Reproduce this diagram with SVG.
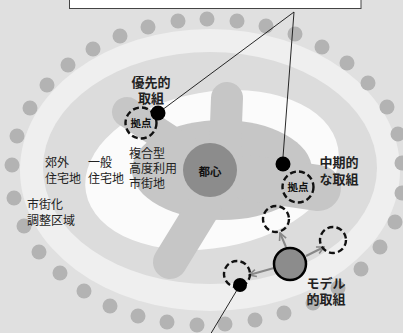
<svg xmlns="http://www.w3.org/2000/svg" width="403" height="333" viewBox="0 0 403 333">
<style>
.lbl{font-family:"Liberation Sans","Noto Sans CJK JP",sans-serif;font-size:12px;fill:#222}
.blbl{font-family:"Liberation Sans","Noto Sans CJK JP",sans-serif;font-size:13px;font-weight:bold;fill:#222;text-anchor:middle}
.kt{font-family:"Liberation Sans","Noto Sans CJK JP",sans-serif;font-size:10.5px;font-weight:bold;fill:#111;text-anchor:middle}
.dot{fill:#b3b3b3}
.dash{fill:none;stroke:#111;stroke-width:2.4;stroke-dasharray:6 3.2}
.blk{fill:#000}
.lead{stroke:#111;stroke-width:0.9;fill:none}
.arr{stroke:#888;stroke-width:2;fill:none;marker-end:url(#chev)}
.arm{stroke:#c6c6c6;stroke-linecap:round;fill:none}
</style>
<defs>
<marker id="chev" viewBox="0 0 10 10" refX="9" refY="5" markerWidth="9" markerHeight="9" markerUnits="userSpaceOnUse" orient="auto">
<path d="M1,1 L9,5 L1,9" fill="none" stroke="#888" stroke-width="1.8"/>
</marker>
</defs>
<rect width="403" height="333" fill="#e0e0e0"/>
<g id="zones">
<ellipse cx="210" cy="170" rx="190" ry="141" fill="#efefef"/>
<ellipse cx="210" cy="168" rx="167" ry="116" fill="#dcdcdc"/>
<ellipse cx="212" cy="170" rx="128" ry="78" fill="#fbfbfb" transform="rotate(-10 212 170)"/>
</g>
<g id="greenbelt">
<circle class="dot" cx="30" cy="108" r="7.5"/><circle class="dot" cx="47" cy="85" r="7.5"/><circle class="dot" cx="68" cy="65" r="7.5"/><circle class="dot" cx="93" cy="49" r="7.5"/><circle class="dot" cx="120" cy="36" r="7.5"/><circle class="dot" cx="148" cy="27" r="7.5"/><circle class="dot" cx="178" cy="21" r="7.5"/><circle class="dot" cx="207" cy="19" r="7.5"/><circle class="dot" cx="237" cy="21" r="7.5"/><circle class="dot" cx="266" cy="26" r="7.5"/><circle class="dot" cx="295" cy="34" r="7.5"/><circle class="dot" cx="322" cy="47" r="7.5"/><circle class="dot" cx="347" cy="63" r="7.5"/><circle class="dot" cx="368" cy="83" r="7.5"/><circle class="dot" cx="387" cy="107" r="7.5"/><circle class="dot" cx="398" cy="134" r="7.5"/><circle class="dot" cx="402" cy="163" r="7.5"/><circle class="dot" cx="402" cy="193" r="7.5"/><circle class="dot" cx="395" cy="222" r="7.5"/><circle class="dot" cx="380" cy="247" r="7.5"/><circle class="dot" cx="361" cy="269" r="7.5"/><circle class="dot" cx="338" cy="288" r="7.5"/><circle class="dot" cx="313" cy="303" r="7.5"/><circle class="dot" cx="284" cy="313" r="7.5"/><circle class="dot" cx="255" cy="320" r="7.5"/><circle class="dot" cx="225" cy="324" r="7.5"/><circle class="dot" cx="197" cy="325" r="7.5"/><circle class="dot" cx="167" cy="322" r="7.5"/><circle class="dot" cx="138" cy="316" r="7.5"/><circle class="dot" cx="110" cy="306" r="7.5"/><circle class="dot" cx="84" cy="291" r="7.5"/><circle class="dot" cx="60" cy="273" r="7.5"/><circle class="dot" cx="39" cy="252" r="7.5"/><circle class="dot" cx="24" cy="226" r="7.5"/><circle class="dot" cx="14" cy="198" r="7.5"/><circle class="dot" cx="12" cy="165" r="7.5"/><circle class="dot" cx="17" cy="136" r="7.5"/>
</g>
<g id="core-area">
<ellipse cx="222" cy="170" rx="90" ry="50" fill="#c6c6c6"/>
<line class="arm" x1="127" y1="112" x2="185" y2="150" stroke-width="30"/>
<line class="arm" x1="227" y1="98" x2="225" y2="150" stroke-width="32"/>
<line class="arm" x1="250" y1="178" x2="318" y2="188" stroke-width="46"/>
<line class="arm" x1="205" y1="205" x2="170" y2="262" stroke-width="34"/>
</g>
<g id="toshin">
<circle cx="210" cy="170" r="27" fill="#8c8c8c"/>
<text class="kt" x="210" y="176" style="font-size:11.5px">都心</text>
</g>
<g id="top-box">
<rect x="69.5" y="-5" width="291.5" height="13.5" fill="#fff" stroke="#444" stroke-width="1"/>
</g>
<g id="connectors">
<polyline class="lead" points="158,113 294,12 283,157"/>
<line class="lead" x1="240" y1="285" x2="207" y2="340"/>
<line class="arr" x1="286" y1="247" x2="280" y2="233"/>
<line class="arr" x1="306" y1="256" x2="324" y2="247"/>
<line class="arr" x1="274" y1="268" x2="249" y2="275"/>
</g>
<g id="priority">
<circle class="dash" cx="141" cy="123" r="15.5"/>
<text class="kt" x="141" y="127">拠点</text>
<circle class="blk" cx="158" cy="113" r="7.5"/>
<text class="blbl" x="151" y="87"><tspan x="151">優先的</tspan><tspan x="151" dy="16">取組</tspan></text>
</g>
<g id="midterm">
<circle class="blk" cx="283" cy="164" r="7.5"/>
<circle class="dash" cx="298" cy="187" r="15.5"/>
<text class="kt" x="298" y="191">拠点</text>
<text class="blbl" x="339" y="167"><tspan x="339">中期的</tspan><tspan x="339" dy="16.5">な取組</tspan></text>
</g>
<g id="model">
<circle cx="290" cy="264" r="16" fill="#8c8c8c" stroke="#000" stroke-width="2.5"/>
<circle class="dash" cx="276" cy="219" r="13"/>
<circle class="dash" cx="333" cy="240" r="13"/>
<circle class="dash" cx="237" cy="274" r="13"/>
<circle class="blk" cx="240" cy="285" r="7"/>
<text class="blbl" x="326" y="288"><tspan x="326">モデル</tspan><tspan x="326" dy="15.5">的取組</tspan></text>
</g>
<g id="labels">
<text class="lbl" x="45" y="167"><tspan x="45">郊外</tspan><tspan x="45" dy="16">住宅地</tspan></text>
<text class="lbl" x="88" y="167"><tspan x="88">一般</tspan><tspan x="88" dy="16">住宅地</tspan></text>
<text class="lbl" x="129" y="158"><tspan x="129">複合型</tspan><tspan x="129" dy="15">高度利用</tspan><tspan x="129" dy="15">市街地</tspan></text>
<text class="lbl" x="27" y="209"><tspan x="27">市街化</tspan><tspan x="27" dy="16">調整区域</tspan></text>
</g>
</svg>
